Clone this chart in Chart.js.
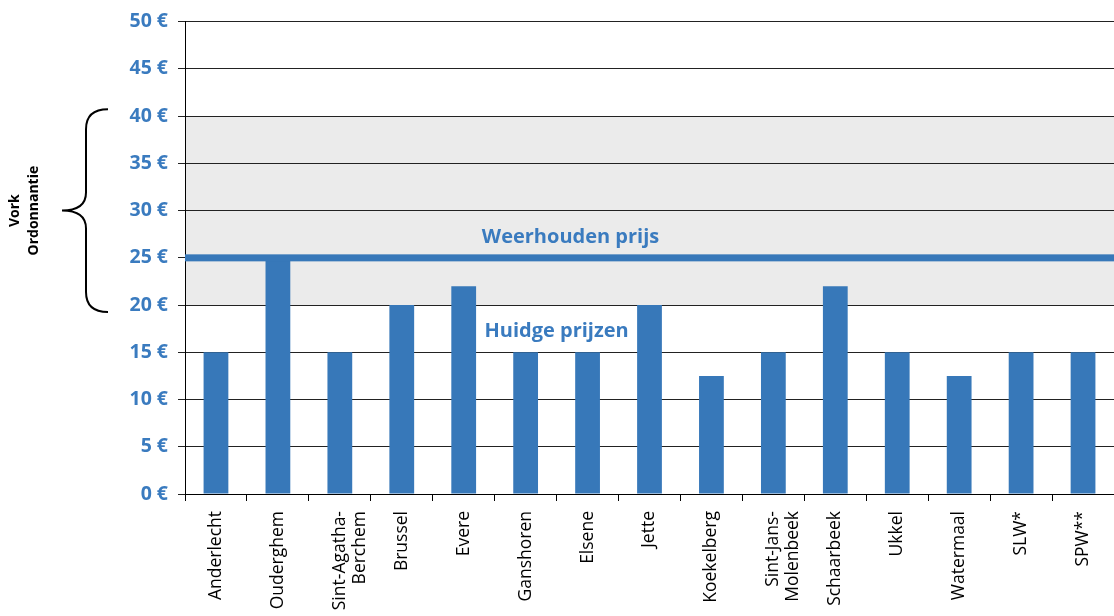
<!DOCTYPE html>
<html>
<head>
<meta charset="utf-8">
<script src="https://cdn.jsdelivr.net/npm/chart.js@4"></script>
<style>
  html, body { margin: 0; padding: 0; background: #fff; }
  #wrap { width: 1114px; height: 616px; }
</style>
</head>
<body>
<div id="wrap"><canvas id="priceChart" width="1114" height="616"></canvas></div>
<script>
const communes = ['Anderlecht', 'Ouderghem', ['Sint-Agatha-', 'Berchem'], 'Brussel', 'Evere', 'Ganshoren',
  'Elsene', 'Jette', 'Koekelberg', ['Sint-Jans-', 'Molenbeek'], 'Schaarbeek', 'Ukkel', 'Watermaal', 'SLW*', 'SPW**'];
const prices = [15, 25, 15, 20, 22, 15, 15, 20, 12.5, 15, 22, 15, 12.5, 15, 15];
const forkRange = [20, 40];
const retainedPrice = 25;
const yTicks = [0, 5, 10, 15, 20, 25, 30, 35, 40, 45, 50];

const BLUE = '#3778b9';
const TEXT_BLUE = '#3a7bbf';

// grey band + brace on the left
const bandPlugin = {
  id: 'band',
  beforeDraw(chart) {
    const { ctx, chartArea } = chart;
    const y = chart.scales.y;
    const top = y.getPixelForValue(forkRange[1]);
    const bottom = y.getPixelForValue(forkRange[0]);
    ctx.save();
    ctx.fillStyle = '#ebebeb';
    ctx.fillRect(chartArea.left, top, chartArea.right - chartArea.left, bottom - top);
    ctx.restore();
  },
  afterDraw(chart) {
    const { ctx } = chart;
    const y = chart.scales.y;
    const top = y.getPixelForValue(forkRange[1]) - 7;
    const bottom = y.getPixelForValue(forkRange[0]) + 7;
    const mid = (top + bottom) / 2;
    const xr = 108, xm = 86, xp = 62;
    ctx.save();
    ctx.strokeStyle = '#000';
    ctx.lineWidth = 2;
    ctx.beginPath();
    ctx.moveTo(xr, top);
    ctx.quadraticCurveTo(xm, top, xm, top + 20);
    ctx.lineTo(xm, mid - 18);
    ctx.quadraticCurveTo(xm, mid, xp, mid);
    ctx.quadraticCurveTo(xm, mid, xm, mid + 18);
    ctx.lineTo(xm, bottom - 20);
    ctx.quadraticCurveTo(xm, bottom, xr, bottom);
    ctx.stroke();

    ctx.translate(25, mid);
    ctx.rotate(-Math.PI / 2);
    ctx.fillStyle = '#000';
    ctx.font = 'bold 14px "Open Sans"';
    ctx.textAlign = 'center';
    ctx.textBaseline = 'middle';
    ctx.fillText('Vork', 0, -10);
    ctx.fillText('Ordonnantie', 0, 9);
    ctx.restore();
  }
};

// thick line at the retained price + labels
const linePlugin = {
  id: 'retained',
  afterDatasetsDraw(chart) {
    const { ctx, chartArea } = chart;
    const y = chart.scales.y;
    const py = y.getPixelForValue(retainedPrice);
    ctx.save();
    ctx.fillStyle = BLUE;
    ctx.fillRect(chartArea.left, py - 3.5, chartArea.right - chartArea.left, 7);
    ctx.font = 'bold 20px "Open Sans"';
    ctx.fillStyle = TEXT_BLUE;
    ctx.textAlign = 'center';
    ctx.textBaseline = 'middle';
    const w = chartArea.right - chartArea.left;
    ctx.fillText('Weerhouden prijs', chartArea.left + w * 0.415, y.getPixelForValue(27.2));
    ctx.fillText('Huidge prijzen', chartArea.left + w * 0.40, y.getPixelForValue(17.2));
    ctx.restore();
  }
};

new Chart(document.getElementById('priceChart'), {
  type: 'bar',
  data: {
    labels: communes,
    datasets: [{
      data: prices,
      backgroundColor: BLUE,
      borderWidth: 0,
      categoryPercentage: 1,
      barPercentage: 0.4
    }]
  },
  options: {
    responsive: false,
    animation: false,
    layout: { padding: { top: 20, right: 0, bottom: 0, left: 0 } },
    plugins: {
      legend: { display: false },
      tooltip: { enabled: false }
    },
    scales: {
      x: {
        grid: {
          offset: true,
          drawOnChartArea: false,
          drawTicks: true,
          tickLength: 7,
          color: '#000'
        },
        border: { color: '#000', width: 1 },
        ticks: {
          minRotation: 90,
          maxRotation: 90,
          autoSkip: false,
          color: '#000',
          padding: 10,
          font: { family: '"Open Sans"', size: 17.5, lineHeight: 1.15 }
        },
        afterFit(scale) { scale.height = 122; }
      },
      y: {
        min: 0,
        max: 50,
        afterBuildTicks(scale) { scale.ticks = yTicks.map(v => ({ value: v })); },
        grid: {
          color: '#222',
          lineWidth: 1,
          tickLength: 7
        },
        border: { color: '#000', width: 1 },
        ticks: {
          color: TEXT_BLUE,
          padding: 10,
          font: { family: '"Open Sans"', size: 19.5, weight: 'bold' },
          callback: v => v + ' €'
        },
        afterFit(scale) { scale.width = 185; }
      }
    }
  },
  plugins: [bandPlugin, linePlugin]
});
</script>
</body>
</html>
